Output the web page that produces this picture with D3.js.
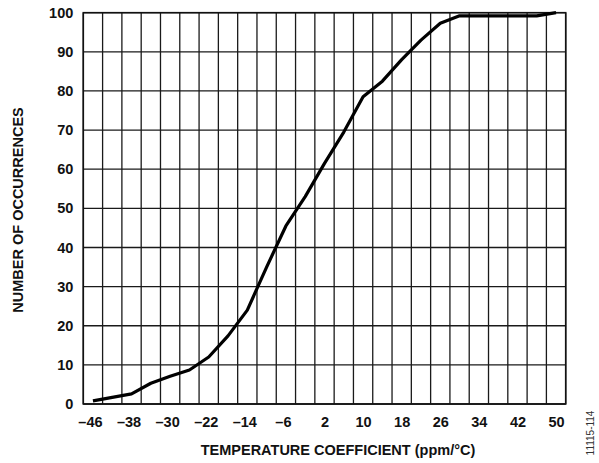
<!DOCTYPE html>
<meta charset="utf-8">
<html>
<script src="https://d3js.org/d3.v7.min.js"></script>
<style>
  body { margin: 0; background: #fff; }
  text { font-family: "Liberation Sans", Arial, sans-serif; }
</style>
<div id="chart"></div>
<script>

// temperature coefficient (ppm/°C) and cumulative occurrences
var tempCoef = [-46, -42, -38, -34, -30, -26, -22, -18, -14, -10, -6, -2, 2, 6, 10, 14, 18, 22, 26, 30, 34, 38, 42, 46, 50];
var occurrences = [0.8, 1.7, 2.6, 5.3, 7.1, 8.7, 12, 17.4, 24, 35, 45.5, 53, 61.5, 69.5, 78.5, 82.5, 88, 93, 97.3, 99.2, 99.2, 99.2, 99.2, 99.2, 100];
var xTickLabels = [-46, -38, -30, -22, -14, -6, 2, 10, 18, 26, 34, 42, 50];
var yTickLabels = [0, 10, 20, 30, 40, 50, 60, 70, 80, 90, 100];

var width = 599,
    height = 463;
var margin = {top: 12.7, right: 33.3, bottom: 59, left: 83.3};

var svg = d3.select("#chart")
  .append("svg")
    .attr("width", width)
    .attr("height", height);

// cells are 4 ppm wide and labels sit in the middle of every other cell
var x = d3.scaleLinear()
  .domain([-48, 52])
  .range([margin.left, width - margin.right]);

var y = d3.scaleLinear()
  .domain([0, 100])
  .range([height - margin.bottom, margin.top]);

// grid
svg.append("g")
  .selectAll("line")
  .data(d3.range(-48, 53, 4))
  .enter().append("line")
    .attr("x1", function(d) { return x(d); })
    .attr("x2", function(d) { return x(d); })
    .attr("y1", y(0))
    .attr("y2", y(100))
    .attr("stroke", "#1a1a1a")
    .attr("stroke-width", 1.3);

svg.append("g")
  .selectAll("line")
  .data(yTickLabels)
  .enter().append("line")
    .attr("x1", x(-48))
    .attr("x2", x(52))
    .attr("y1", function(d) { return y(d); })
    .attr("y2", function(d) { return y(d); })
    .attr("stroke", "#1a1a1a")
    .attr("stroke-width", 1.3);

svg.append("rect")
  .attr("x", x(-48))
  .attr("y", y(100))
  .attr("width", x(52) - x(-48))
  .attr("height", y(0) - y(100))
  .attr("fill", "none")
  .attr("stroke", "#111")
  .attr("stroke-width", 1.6);

// axes (labels only)
var fmt = function(d) { return String(d).replace("-", "\u2013"); };

var xAxis = svg.append("g")
  .attr("transform", "translate(0," + y(0) + ")")
  .call(d3.axisBottom(x).tickValues(xTickLabels).tickSize(0).tickPadding(13).tickFormat(fmt));

var yAxis = svg.append("g")
  .attr("transform", "translate(" + x(-48) + ",0)")
  .call(d3.axisLeft(y).tickValues(yTickLabels).tickSize(0).tickPadding(10));

[xAxis, yAxis].forEach(function(a) {
  a.select(".domain").remove();
  a.selectAll("text")
    .attr("fill", "#111")
    .style("font-size", "14.5px")
    .style("font-weight", "bold")
    .style("font-family", "'Liberation Sans', Arial, sans-serif");
});

// negative labels sit a touch to the left in the original
xAxis.selectAll("text")
  .attr("dx", function(d) { return d < 0 ? -3 : 0; });

// curve
var line = d3.line()
  .x(function(d, i) { return x(tempCoef[i]); })
  .y(function(d) { return y(d); });

svg.append("path")
  .datum(occurrences)
  .attr("d", line)
  .attr("fill", "none")
  .attr("stroke", "#000")
  .attr("stroke-width", 3.2)
  .attr("stroke-linejoin", "round");

// titles
svg.append("text")
  .attr("x", 338)
  .attr("y", 455)
  .attr("text-anchor", "middle")
  .attr("fill", "#111")
  .style("font-size", "14.5px")
  .style("font-weight", "bold")
  .text("TEMPERATURE COEFFICIENT (ppm/\u00B0C)");

svg.append("text")
  .attr("transform", "translate(23,210) rotate(-90)")
  .attr("text-anchor", "middle")
  .attr("fill", "#111")
  .style("font-size", "14.5px")
  .style("font-weight", "bold")
  .text("NUMBER OF OCCURRENCES");

svg.append("text")
  .attr("transform", "translate(594,433) rotate(-90)")
  .attr("text-anchor", "middle")
  .attr("fill", "#333")
  .style("font-size", "10px")
  .text("11115-114");
</script>
</html>
